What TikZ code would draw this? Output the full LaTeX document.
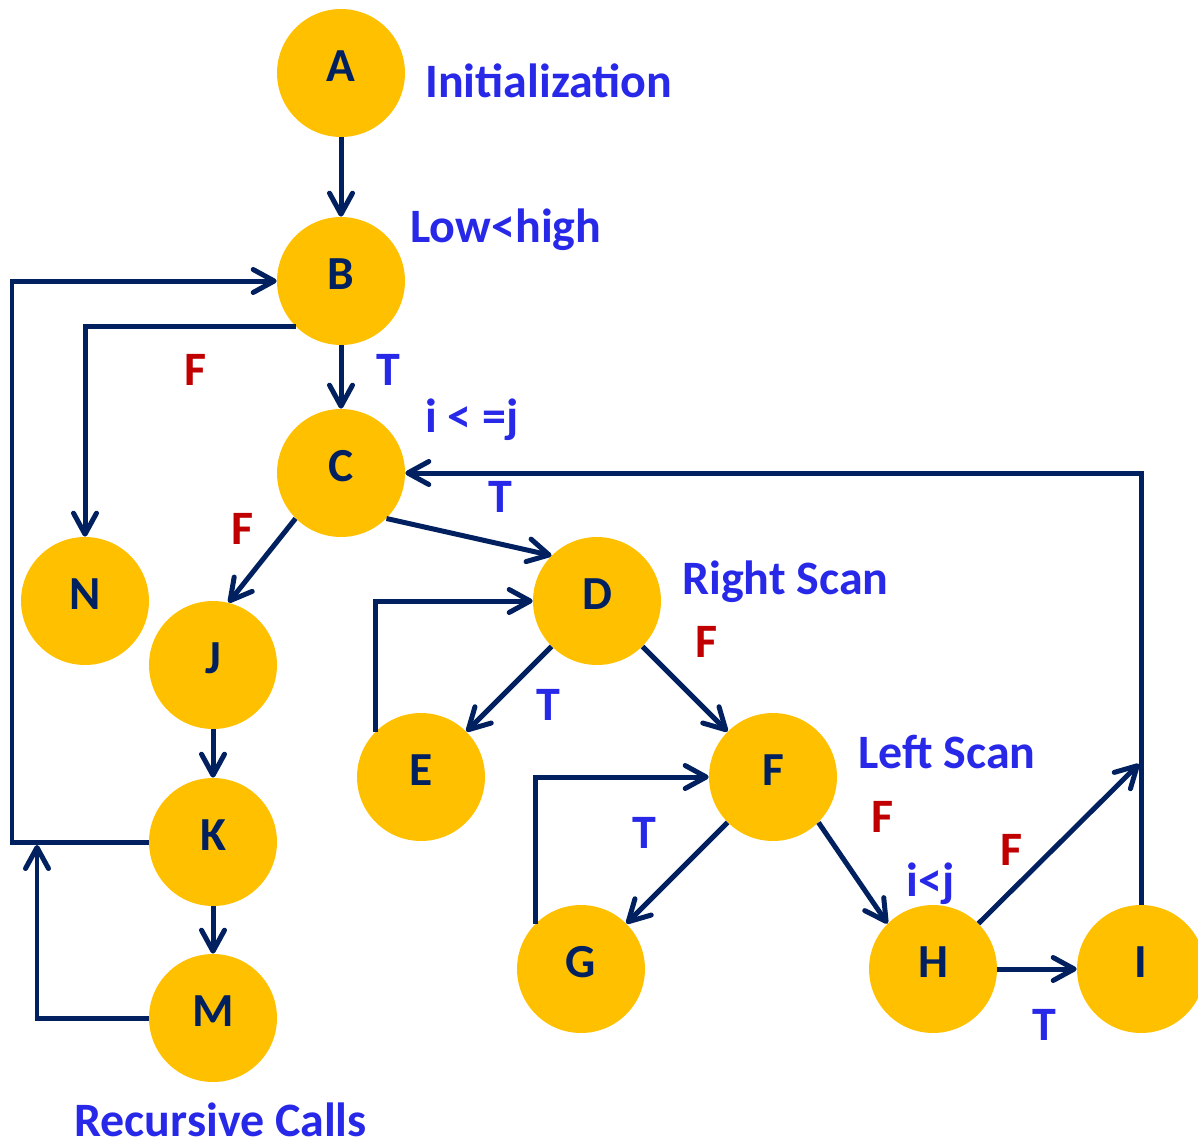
\documentclass[tikz,border=0pt]{standalone}
\usepackage{fontspec}
\setmainfont{Carlito}
\usetikzlibrary{arrows.meta}
\definecolor{gold}{RGB}{255,192,0}
\definecolor{navy}{RGB}{0,32,96}
\definecolor{lblue}{RGB}{40,40,232}
\definecolor{dred}{RGB}{192,0,0}
\tikzset{
  state/.style={circle,fill=gold,minimum size=2.56cm,inner sep=0pt,text=navy,text height=0.57cm,text depth=0.24cm,font=\fontsize{27}{30}\selectfont\bfseries},
  flow/.style={draw=navy,line width=0.1cm,-{Straight Barb[length=0.42cm,width=0.46cm,round]}},
  lbl/.style={inner sep=0pt,anchor=base,font=\fontsize{27.3}{30}\selectfont\bfseries},
  tlbl/.style={lbl,text=lblue},
  flbl/.style={lbl,text=dred},
  note/.style={lbl,anchor=base west,text=lblue}
}
\begin{document}
\begin{tikzpicture}[x=0.02cm,y=-0.02cm]
\useasboundingbox (0,0) rectangle (1198,1140);
\node[state] (A) at (341,73) {A};
\node[state] (B) at (341,281) {B};
\node[state] (C) at (341,473) {C};
\node[state] (N) at (85,601) {N};
\node[state] (J) at (213,665) {J};
\node[state] (K) at (213,842) {K};
\node[state] (M) at (213,1018) {M};
\node[state] (D) at (597,601) {D};
\node[state] (E) at (421,777) {E};
\node[state] (F) at (773,777) {F};
\node[state] (G) at (581,969) {G};
\node[state] (H) at (933,969) {H};
\node[state] (I) at (1141,969) {I};
\coordinate (loopK) at (12,842);
\coordinate (loopM) at (37,1018);
\coordinate (mk) at (37,845);
\coordinate (hi) at (1139,764);
\draw[flow] (A) -- (B);
\draw[flow] (B) -- (C);
\draw[flow] (B.225) -- (B.225 -| N) -- (N);
\draw[flow] (K.west) -- (loopK) |- (B.west);
\draw[flow] (M.west) -- (loopM) -- (mk);
\draw[flow] (C.225) -- (J.76);
\draw[flow] (C.-45) -- (D.135);
\draw[flow] (J) -- (K);
\draw[flow] (K) -- (M);
\draw[flow] (D.225) -- (E.45);
\draw[flow] (D.-45) -- (F.135);
\draw[flow] (E.135) |- (D.west);
\draw[flow] (F.225) -- (G.45);
\draw[flow] (F.-45) -- (H.135);
\draw[flow] (G.135) |- (F.west);
\draw[flow] (H) -- (I);
\draw[flow] (H.45) -- (hi);
\draw[flow] (I.north) |- (C.east);
\node[note] (init) at (425,97) {Initialization};
\node[note] (low) at (410,242) {Low<high};
\node[note] (ilej) at (425,432) {i < =j};
\node[note] (rscan) at (682,594) {Right Scan};
\node[note] (lscan) at (858,768) {Left Scan};
\node[note] (iltj) at (906,896) {i<j};
\node[note] (rec) at (74,1136) {Recursive Calls};
\node[tlbl] (tBC) at (388,385) {T};
\node[flbl] (fBN) at (196,385) {F};
\node[tlbl] (tCD) at (500,512) {T};
\node[flbl] (fCJ) at (243,544) {F};
\node[flbl] (fDF) at (707,657) {F};
\node[tlbl] (tDE) at (548,720) {T};
\node[tlbl] (tFG) at (644,848) {T};
\node[flbl] (fFH) at (883,832) {F};
\node[flbl] (fHI) at (1012,865) {F};
\node[tlbl] (tHI) at (1044,1040) {T};
\end{tikzpicture}
\end{document}
